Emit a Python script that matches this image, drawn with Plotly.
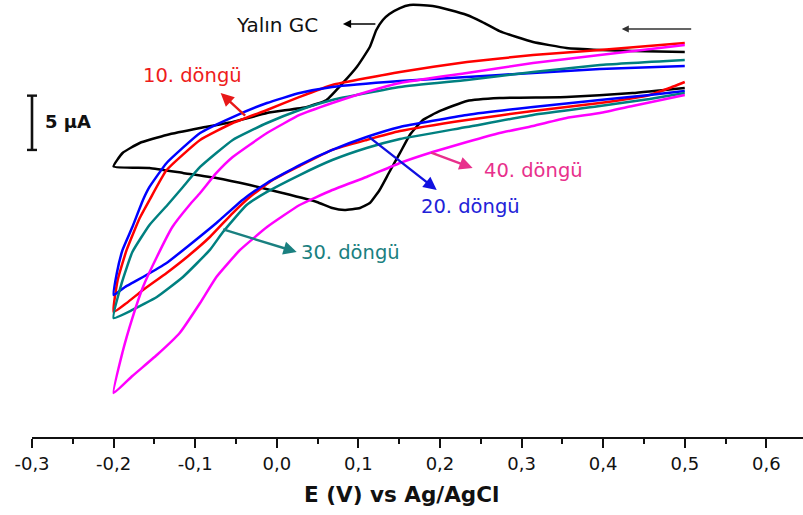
import plotly.graph_objects as go

# ---------------- data (E in V vs Ag/AgCl, I in µA; arbitrary offset) ----------------
black_E = [0.500, 0.436, 0.396, 0.355, 0.314, 0.294, 0.273, 0.252, 0.233, 0.212, 0.191, 0.175,
           0.163, 0.151, 0.138, 0.130, 0.122, 0.114, 0.098, 0.081, 0.061, 0.037, -0.012, -0.054,
           -0.094, -0.135, -0.168, -0.189, -0.200,
           -0.156, -0.115, -0.074, -0.033, 0.007, 0.049, 0.068, 0.083, 0.102, 0.114, 0.126,
           0.138, 0.151, 0.163, 0.179, 0.200, 0.233, 0.273, 0.355, 0.436, 0.500]
black_I = [22.84, 22.93, 23.03, 23.21, 23.76, 24.22, 24.77, 25.60, 26.25, 26.71, 27.08, 27.17,
           27.17, 26.89, 26.34, 25.79, 24.87, 23.30, 21.46, 19.99, 18.42, 17.78, 17.22, 16.39,
           15.84, 15.20, 14.46, 13.54, 12.30,
           12.16, 11.70, 11.24, 10.59, 9.85, 9.03, 8.47, 8.29, 8.47, 8.93, 10.13,
           11.79, 13.54, 15.20, 16.58, 17.41, 18.33, 18.60, 18.70, 19.06, 19.53]

red_E = [0.500, 0.396, 0.314, 0.233, 0.151, 0.068, 0.028, -0.012, -0.054, -0.094, -0.135, -0.156,
         -0.168, -0.184, -0.195, -0.200,
         -0.184, -0.164, -0.135, -0.110, -0.082, -0.054, -0.033, -0.005, 0.028, 0.068, 0.110,
         0.151, 0.233, 0.314, 0.396, 0.457, 0.478, 0.500]
red_I = [23.67, 23.03, 22.56, 21.92, 21.00, 19.80, 18.70, 17.50, 16.30, 14.74, 11.97, 9.21,
         7.55, 4.61, 1.84, -1.11,
         -0.28, 0.92, 2.49, 3.96, 5.80, 8.01, 9.49, 11.05, 12.34, 13.82, 14.74,
         15.56, 16.58, 17.41, 18.14, 18.88, 19.43, 20.08]

blue_E = [0.500, 0.396, 0.314, 0.233, 0.151, 0.068, 0.028, -0.012, -0.054, -0.094, -0.135, -0.156,
          -0.164, -0.177, -0.189, -0.196, -0.200,
          -0.186, -0.177, -0.164, -0.135, -0.110, -0.074, -0.042, -0.012, 0.028, 0.068, 0.110,
          0.151, 0.233, 0.314, 0.396, 0.457, 0.500]
blue_I = [21.55, 21.28, 20.91, 20.54, 20.17, 19.62, 19.06, 18.14, 16.85, 15.38, 12.62, 10.41,
          9.21, 6.72, 4.61, 2.49, 0.46,
          1.20, 1.57, 2.12, 3.41, 4.88, 7.09, 9.21, 10.78, 12.43, 13.82, 15.01,
          15.93, 17.04, 17.78, 18.42, 18.88, 19.25]

teal_E = [0.500, 0.396, 0.314, 0.233, 0.151, 0.068, 0.028, -0.012, -0.054, -0.094, -0.115, -0.134,
          -0.156, -0.177, -0.190, -0.200,
          -0.177, -0.147, -0.115, -0.082, -0.066, -0.037, -0.012, 0.028, 0.068, 0.110,
          0.151, 0.233, 0.314, 0.396, 0.457, 0.500]
teal_I = [22.10, 21.64, 21.00, 20.26, 19.62, 18.42, 17.50, 16.30, 14.74, 12.25, 10.41, 8.75,
          6.91, 4.42, 1.57, -1.66,
          -0.92, 0.28, 2.12, 4.61, 6.26, 8.75, 9.95, 11.51, 12.89, 14.00,
          14.83, 15.93, 17.04, 17.87, 18.51, 19.06]

mag_E = [0.500, 0.396, 0.314, 0.233, 0.151, 0.110, 0.068, 0.028, -0.012, -0.054, -0.074, -0.094,
         -0.107, -0.128, -0.147, -0.164, -0.177, -0.189, -0.200,
         -0.177, -0.147, -0.119, -0.094, -0.074, -0.045, -0.012, 0.028, 0.068, 0.110, 0.151,
         0.191, 0.233, 0.273, 0.314, 0.355, 0.396, 0.436, 0.500]
mag_I = [23.49, 22.56, 21.83, 20.91, 19.99, 19.16, 18.14, 17.04, 15.38, 13.17, 11.70, 9.85,
         8.75, 6.72, 3.96, 1.20, -1.66, -4.79, -8.57,
         -7.00, -5.07, -3.04, -0.28, 2.12, 4.61, 6.72, 8.75, 10.13, 11.33, 12.62,
         13.63, 14.55, 15.38, 16.03, 16.76, 17.22, 17.87, 18.88]

tick_vals = [-0.3, -0.2, -0.1, 0.0, 0.1, 0.2, 0.3, 0.4, 0.5, 0.6]
tick_text = ["-0,3", "-0,2", "-0,1", "0,0", "0,1", "0,2", "0,3", "0,4", "0,5", "0,6"]
minor_vals = [-0.25, -0.15, -0.05, 0.05, 0.15, 0.25, 0.35, 0.45, 0.55]

series = [
    ("Yalın GC", black_E, black_I, "#000000"),
    ("10. döngü", red_E, red_I, "#ff0000"),
    ("20. döngü", blue_E, blue_I, "#0000ff"),
    ("30. döngü", teal_E, teal_I, "#008080"),
    ("40. döngü", mag_E, mag_I, "#ff00ff"),
]

X_RANGE = [-0.3, 0.6449]
Y_RANGE = [-12.62, 27.63]
FONT = "DejaVu Sans"

fig = go.Figure()
for name, xs, ys, col in series:
    fig.add_trace(go.Scatter(x=xs, y=ys, mode="lines", name=name,
                             line=dict(color=col, width=2.5, shape="spline", smoothing=0.4),
                             showlegend=False, hoverinfo="skip"))

annotations = []
# text labels
labels = [
    ("Yalın GC", 0.000, 25.33, "#111111", 20),
    ("10. döngü", -0.103, 20.72, "#ee1c1c", 19.5),
    ("20. döngü", 0.2376, 8.57, "#2222d8", 19.5),
    ("30. döngü", 0.0906, 4.33, "#1a8080", 19.5),
    ("40. döngü", 0.3148, 11.97, "#e8308c", 19.5),
]
for t, x, y, c, s in labels:
    annotations.append(dict(x=x, y=y, xref="x", yref="y", text=t, showarrow=False,
                            font=dict(family=FONT, size=s, color=c),
                            xanchor="center", yanchor="middle"))
# arrows (tip in data coords, tail offset in px)
arrows = [
    (0.081, 25.42, 34, 0, "#000000", 1.5),
    (0.4227, 24.96, 71, 0, "#333333", 1.3),
    (-0.0688, 19.06, 26, 24, "#e81818", 2.4),
    (0.196, 10.13, -69, -54, "#1010e0", 2.4),
    (0.0244, 4.42, -75, -23, "#1a8080", 2.4),
    (0.240, 12.16, -43, -16, "#e8308c", 2.4),
]
for x, y, ax, ay, c, w in arrows:
    annotations.append(dict(x=x, y=y, xref="x", yref="y", text="", showarrow=True,
                            ax=ax, ay=ay, axref="pixel", ayref="pixel",
                            arrowhead=2, arrowsize=1.1, arrowwidth=w, arrowcolor=c))
# scale bar label
annotations.append(dict(x=-0.2869, y=16.42, xref="x", yref="y", text="<b>5 µA</b>",
                        showarrow=False, xanchor="left", yanchor="middle",
                        font=dict(family=FONT, size=18, color="#111111")))
# axis title
annotations.append(dict(x=0.4797, y=-0.132, xref="paper", yref="paper",
                        text="<b>E (V) vs Ag/AgCl</b>", showarrow=False,
                        xanchor="center", yanchor="middle",
                        font=dict(family=FONT, size=21.5, color="#111111")))

# scale bar (5 µA) as shapes
bar_lo, bar_hi = 13.82, 18.82
serif = 5.0 / 771.0
shapes = [
    dict(type="line", xref="paper", yref="y", x0=0, x1=0, y0=bar_lo, y1=bar_hi,
         line=dict(color="#111111", width=2.6)),
    dict(type="line", xref="paper", yref="y", x0=-serif, x1=serif, y0=bar_lo, y1=bar_lo,
         line=dict(color="#111111", width=2.4)),
    dict(type="line", xref="paper", yref="y", x0=-serif, x1=serif, y0=bar_hi, y1=bar_hi,
         line=dict(color="#111111", width=2.4)),
]

fig.update_layout(
    width=803, height=515,
    margin=dict(l=32, r=0, t=0, b=78, pad=0),
    paper_bgcolor="white", plot_bgcolor="white",
    annotations=annotations, shapes=shapes,
    xaxis=dict(range=X_RANGE, showgrid=False, zeroline=False,
               showline=True, linecolor="#111111", linewidth=2,
               ticks="outside", ticklen=9, tickwidth=2, tickcolor="#111111",
               tickvals=tick_vals, ticktext=tick_text,
               tickfont=dict(family=FONT, size=18, color="#111111"),
               minor=dict(tickvals=minor_vals, ticks="outside", ticklen=5,
                          tickwidth=2, tickcolor="#111111")),
    yaxis=dict(range=Y_RANGE, visible=False, showgrid=False, zeroline=False),
)

fig.write_html("out.html")
